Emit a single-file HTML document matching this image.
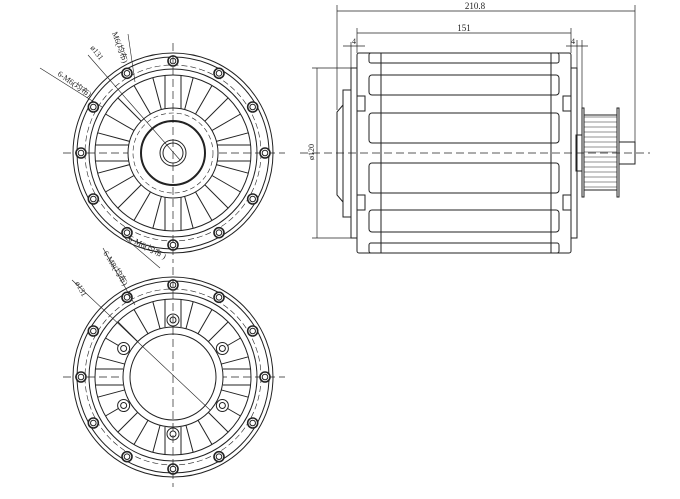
<!DOCTYPE html>
<html><head><meta charset="utf-8"><style>
html,body{margin:0;padding:0;background:#fff;width:680px;height:499px;overflow:hidden}
svg{display:block}
text{font-family:"Liberation Serif","Noto Sans CJK SC",serif;fill:#222}
</style></head><body>
<svg id="s" width="680" height="499" viewBox="0 0 680 499" xmlns="http://www.w3.org/2000/svg" fill="none" stroke="#222" stroke-width="1">
<g>
<line x1="300" y1="153" x2="650" y2="153" stroke-dasharray="8,4" stroke-width="0.7"/>
<rect x="343" y="90" width="8" height="127"/>
<path d="M343 105 L337 112 L337 195 L343 202"/>
<rect x="351" y="68" width="6" height="170"/>
<rect x="357" y="53" width="214" height="200" rx="2"/>
<line x1="381" y1="53" x2="381" y2="253"/>
<line x1="551" y1="53" x2="551" y2="253"/>
<rect x="369" y="53" width="190" height="10" rx="2"/>
<rect x="369" y="75" width="190" height="20" rx="3"/>
<rect x="369" y="113" width="190" height="30" rx="3"/>
<rect x="369" y="163" width="190" height="30" rx="3"/>
<rect x="369" y="210" width="190" height="22" rx="3"/>
<rect x="369" y="243" width="190" height="10" rx="2"/>
<rect x="357" y="96" width="8" height="15"/><rect x="357" y="195" width="8" height="15"/>
<rect x="563" y="96" width="8" height="15"/><rect x="563" y="195" width="8" height="15"/>
<rect x="571" y="68" width="6" height="170"/>
<rect x="576" y="135" width="6" height="36"/>
<rect x="582" y="108" width="2" height="89"/>
<rect x="617" y="108" width="2" height="89"/>
<rect x="584" y="115" width="33" height="75"/>
<g id="teeth" stroke-width="0.6"></g>
<rect x="619" y="142" width="16" height="22"/>
<g stroke-width="0.7">
<line x1="337" y1="5" x2="337" y2="110"/><line x1="635" y1="5" x2="635" y2="142"/>
<line x1="337" y1="11" x2="635" y2="11"/>
<line x1="357" y1="28" x2="357" y2="53"/><line x1="571" y1="28" x2="571" y2="53"/>
<line x1="357" y1="33" x2="571" y2="33"/>
<line x1="351" y1="42" x2="351" y2="68"/><line x1="577" y1="40" x2="577" y2="68"/><line x1="582" y1="40" x2="582" y2="108"/>
<line x1="343" y1="46" x2="365" y2="46"/><line x1="566" y1="46" x2="588" y2="46"/>
<line x1="312" y1="68" x2="351" y2="68"/><line x1="312" y1="238" x2="351" y2="238"/>
<line x1="317" y1="68" x2="317" y2="238"/>
</g>
<text x="475" y="9" font-size="9" stroke="none" text-anchor="middle">210.8</text>
<text x="464" y="31" font-size="9" stroke="none" text-anchor="middle">151</text>
<text x="354" y="44" font-size="8" stroke="none" text-anchor="middle">4</text>
<text x="573" y="44" font-size="8" stroke="none" text-anchor="middle">4</text>
<text font-size="8" stroke="none" transform="translate(314,160) rotate(-90)">ø120</text>
</g>
<g id="c1"></g><g id="c2"></g>
<g stroke-width="0.6">
<line x1="128" y1="34" x2="135" y2="82"/><line x1="88" y1="55" x2="180" y2="160"/>
<line x1="40" y1="68" x2="102" y2="107"/>
<line x1="103" y1="248" x2="135" y2="305"/><line x1="125" y1="238" x2="160" y2="268"/>
<line x1="72" y1="280" x2="210" y2="410"/>
</g>
<g font-size="8" stroke="none">
<text transform="translate(112,33) rotate(70)">M6(均布)</text>
<text transform="translate(90,48) rotate(52)">ø131</text>
<text transform="translate(57,75) rotate(35)">6-M6(均布)</text>
<text transform="translate(103,253) rotate(58)">6-M8(均布)</text>
<text transform="translate(128,240) rotate(28)">6-M6(均布 )</text>
<text transform="translate(75,283) rotate(62)">ø131</text>
</g>
</svg>
<script>
var NS="http://www.w3.org/2000/svg";
function el(p,t,a){var e=document.createElementNS(NS,t);for(var k in a)e.setAttribute(k,a[k]);p.appendChild(e);return e;}
var T=document.getElementById("teeth");
for(var y=117;y<190;y+=5)el(T,"line",{x1:584,y1:y,x2:617,y2:y});
function flange(g,cx,cy){
 el(g,"line",{x1:cx-110,y1:cy,x2:cx+112,y2:cy,"stroke-dasharray":"8,4","stroke-width":0.7});
 el(g,"circle",{cx:cx,cy:cy,r:100});
 el(g,"circle",{cx:cx,cy:cy,r:96});
 el(g,"circle",{cx:cx,cy:cy,r:88,"stroke-dasharray":"6,3","stroke-width":0.6});
 el(g,"circle",{cx:cx,cy:cy,r:84});
 el(g,"circle",{cx:cx,cy:cy,r:78});
 for(var i=0;i<12;i++){var a=i*Math.PI/6;var x=cx+92*Math.cos(a),y=cy+92*Math.sin(a);
  el(g,"circle",{cx:x,cy:y,r:5,"stroke-width":1.6,fill:"#fff"});el(g,"circle",{cx:x,cy:y,r:2.8});}
}
function ribs(g,cx,cy,r0,r1){
 for(var i=0;i<24;i++){var a=i*Math.PI/12,c=Math.cos(a),s=Math.sin(a);
  if(i%6==0){var px=-s*8,py=c*8;
   [1,-1].forEach(function(k){el(g,"line",{x1:cx+r0*c+k*px,y1:cy+r0*s+k*py,x2:cx+r1*c+k*px,y2:cy+r1*s+k*py});});
  } else el(g,"line",{x1:cx+r0*c,y1:cy+r0*s,x2:cx+r1*c,y2:cy+r1*s});}
}
var g1=document.getElementById("c1"),cx=173,cy=153;
flange(g1,cx,cy);
ribs(g1,cx,cy,40,78);
el(g1,"circle",{cx:cx,cy:cy,r:45,fill:"#fff"});
el(g1,"circle",{cx:cx,cy:cy,r:40,"stroke-dasharray":"5,3","stroke-width":0.6});
el(g1,"circle",{cx:cx,cy:cy,r:32,"stroke-width":2});
el(g1,"circle",{cx:cx,cy:cy,r:13});
el(g1,"circle",{cx:cx,cy:cy,r:10});
el(g1,"line",{x1:cx,y1:cy-110,x2:cx,y2:cy+110,"stroke-dasharray":"8,4","stroke-width":0.7});
var g2=document.getElementById("c2");cx=173;cy=377;
flange(g2,cx,cy);
ribs(g2,cx,cy,50,78);
for(var i=0;i<6;i++){var a=i*Math.PI/3+Math.PI/6;var x=cx+57*Math.cos(a),y=cy+57*Math.sin(a);
 el(g2,"circle",{cx:x,cy:y,r:6,fill:"#fff"});el(g2,"circle",{cx:x,cy:y,r:3});}
el(g2,"circle",{cx:cx,cy:cy,r:50,fill:"#fff"});
el(g2,"circle",{cx:cx,cy:cy,r:43});
el(g2,"line",{x1:cx,y1:cy-110,x2:cx,y2:cy+110,"stroke-dasharray":"8,4","stroke-width":0.7});
</script>
</body></html>
